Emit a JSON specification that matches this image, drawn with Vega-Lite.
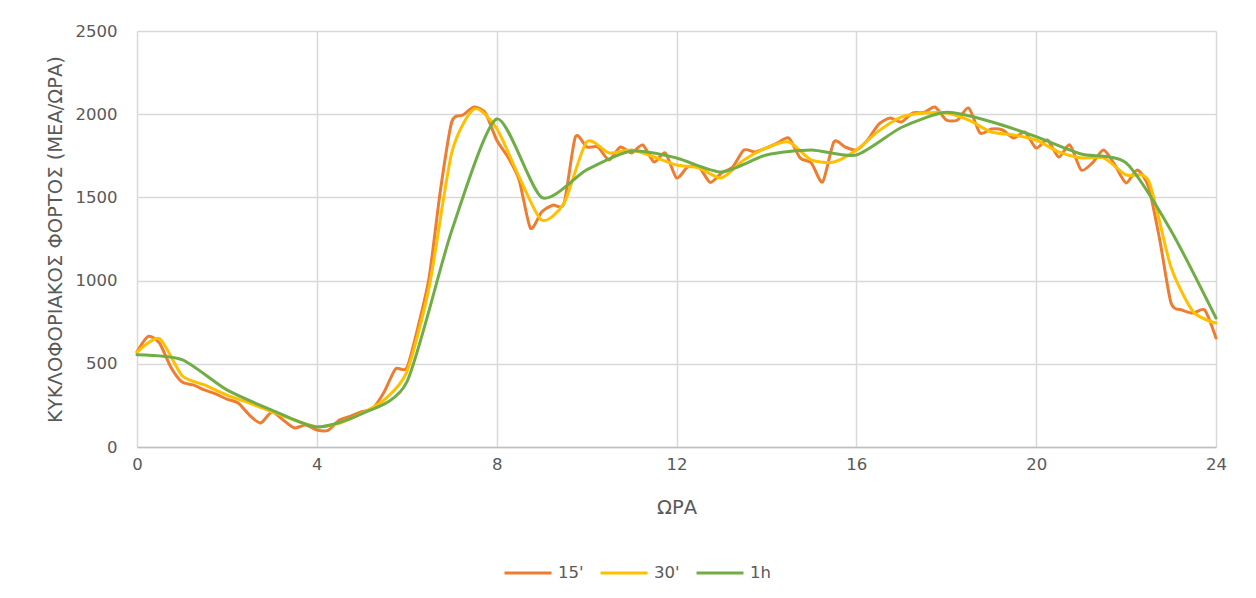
{
  "$schema": "https://vega.github.io/schema/vega-lite/v6.json",
  "width": 1079,
  "height": 416,
  "autosize": "none",
  "padding": {"left": 137, "top": 31, "right": 40, "bottom": 151},
  "background": "white",
  "config": {
    "view": {"stroke": null},
    "font": "DejaVu Sans",
    "axis": {
      "labelFont": "DejaVu Sans",
      "labelFontSize": 16.5,
      "labelColor": "#595959",
      "titleFont": "DejaVu Sans",
      "titleFontSize": 19.5,
      "titleFontWeight": "normal",
      "titleColor": "#595959",
      "gridColor": "#d9d9d9",
      "gridWidth": 1.5,
      "ticks": false,
      "domain": false,
      "labelFlush": false,
      "labelOverlap": false
    },
    "legend": {
      "labelFont": "DejaVu Sans",
      "labelFontSize": 16.5,
      "labelColor": "#595959"
    }
  },
  "data": {
    "values": [
      {"s": "15'", "t": 0, "v": 573}, {"s": "15'", "t": 0.25, "v": 665}, {"s": "15'", "t": 0.5, "v": 625}, {"s": "15'", "t": 0.75, "v": 481},
      {"s": "15'", "t": 1, "v": 391}, {"s": "15'", "t": 1.25, "v": 373}, {"s": "15'", "t": 1.5, "v": 343}, {"s": "15'", "t": 1.75, "v": 319},
      {"s": "15'", "t": 2, "v": 288}, {"s": "15'", "t": 2.25, "v": 264}, {"s": "15'", "t": 2.5, "v": 192}, {"s": "15'", "t": 2.75, "v": 144},
      {"s": "15'", "t": 3, "v": 210}, {"s": "15'", "t": 3.25, "v": 162}, {"s": "15'", "t": 3.5, "v": 114}, {"s": "15'", "t": 3.75, "v": 132},
      {"s": "15'", "t": 4, "v": 102}, {"s": "15'", "t": 4.25, "v": 100}, {"s": "15'", "t": 4.5, "v": 162}, {"s": "15'", "t": 4.75, "v": 186},
      {"s": "15'", "t": 5, "v": 212}, {"s": "15'", "t": 5.25, "v": 234}, {"s": "15'", "t": 5.5, "v": 332}, {"s": "15'", "t": 5.75, "v": 469},
      {"s": "15'", "t": 6, "v": 475}, {"s": "15'", "t": 6.25, "v": 721}, {"s": "15'", "t": 6.5, "v": 1022}, {"s": "15'", "t": 6.75, "v": 1544},
      {"s": "15'", "t": 7, "v": 1953}, {"s": "15'", "t": 7.25, "v": 1995}, {"s": "15'", "t": 7.5, "v": 2043}, {"s": "15'", "t": 7.75, "v": 2007},
      {"s": "15'", "t": 8, "v": 1845}, {"s": "15'", "t": 8.25, "v": 1743}, {"s": "15'", "t": 8.5, "v": 1605}, {"s": "15'", "t": 8.75, "v": 1316},
      {"s": "15'", "t": 9, "v": 1412}, {"s": "15'", "t": 9.25, "v": 1454}, {"s": "15'", "t": 9.5, "v": 1466}, {"s": "15'", "t": 9.75, "v": 1863},
      {"s": "15'", "t": 10, "v": 1803}, {"s": "15'", "t": 10.25, "v": 1803}, {"s": "15'", "t": 10.5, "v": 1725}, {"s": "15'", "t": 10.75, "v": 1803},
      {"s": "15'", "t": 11, "v": 1767}, {"s": "15'", "t": 11.25, "v": 1815}, {"s": "15'", "t": 11.5, "v": 1713}, {"s": "15'", "t": 11.75, "v": 1767},
      {"s": "15'", "t": 12, "v": 1617}, {"s": "15'", "t": 12.25, "v": 1683}, {"s": "15'", "t": 12.5, "v": 1683}, {"s": "15'", "t": 12.75, "v": 1590},
      {"s": "15'", "t": 13, "v": 1647}, {"s": "15'", "t": 13.25, "v": 1683}, {"s": "15'", "t": 13.5, "v": 1785}, {"s": "15'", "t": 13.75, "v": 1773},
      {"s": "15'", "t": 14, "v": 1797}, {"s": "15'", "t": 14.25, "v": 1827}, {"s": "15'", "t": 14.5, "v": 1857}, {"s": "15'", "t": 14.75, "v": 1737},
      {"s": "15'", "t": 15, "v": 1707}, {"s": "15'", "t": 15.25, "v": 1593}, {"s": "15'", "t": 15.5, "v": 1833}, {"s": "15'", "t": 15.75, "v": 1803},
      {"s": "15'", "t": 16, "v": 1785}, {"s": "15'", "t": 16.25, "v": 1845}, {"s": "15'", "t": 16.5, "v": 1940}, {"s": "15'", "t": 16.75, "v": 1977},
      {"s": "15'", "t": 17, "v": 1953}, {"s": "15'", "t": 17.25, "v": 2007}, {"s": "15'", "t": 17.5, "v": 2010}, {"s": "15'", "t": 17.75, "v": 2043},
      {"s": "15'", "t": 18, "v": 1965}, {"s": "15'", "t": 18.25, "v": 1965}, {"s": "15'", "t": 18.5, "v": 2037}, {"s": "15'", "t": 18.75, "v": 1887},
      {"s": "15'", "t": 19, "v": 1911}, {"s": "15'", "t": 19.25, "v": 1905}, {"s": "15'", "t": 19.5, "v": 1857}, {"s": "15'", "t": 19.75, "v": 1893},
      {"s": "15'", "t": 20, "v": 1797}, {"s": "15'", "t": 20.25, "v": 1845}, {"s": "15'", "t": 20.5, "v": 1743}, {"s": "15'", "t": 20.75, "v": 1815},
      {"s": "15'", "t": 21, "v": 1665}, {"s": "15'", "t": 21.25, "v": 1707}, {"s": "15'", "t": 21.5, "v": 1785}, {"s": "15'", "t": 21.75, "v": 1695},
      {"s": "15'", "t": 22, "v": 1587}, {"s": "15'", "t": 22.25, "v": 1665}, {"s": "15'", "t": 22.5, "v": 1563}, {"s": "15'", "t": 22.75, "v": 1244},
      {"s": "15'", "t": 23, "v": 865}, {"s": "15'", "t": 23.25, "v": 823}, {"s": "15'", "t": 23.5, "v": 805}, {"s": "15'", "t": 23.75, "v": 823},
      {"s": "15'", "t": 24, "v": 655},

      {"s": "30'", "t": 0, "v": 570}, {"s": "30'", "t": 0.5, "v": 652}, {"s": "30'", "t": 1, "v": 430}, {"s": "30'", "t": 1.5, "v": 373},
      {"s": "30'", "t": 2, "v": 312}, {"s": "30'", "t": 2.5, "v": 264}, {"s": "30'", "t": 3, "v": 212}, {"s": "30'", "t": 3.5, "v": 162},
      {"s": "30'", "t": 4, "v": 122}, {"s": "30'", "t": 4.5, "v": 143}, {"s": "30'", "t": 5, "v": 203}, {"s": "30'", "t": 5.5, "v": 283},
      {"s": "30'", "t": 6, "v": 450}, {"s": "30'", "t": 6.5, "v": 962}, {"s": "30'", "t": 7, "v": 1767}, {"s": "30'", "t": 7.5, "v": 2031},
      {"s": "30'", "t": 8, "v": 1915}, {"s": "30'", "t": 8.5, "v": 1623}, {"s": "30'", "t": 9, "v": 1364}, {"s": "30'", "t": 9.5, "v": 1466},
      {"s": "30'", "t": 10, "v": 1833}, {"s": "30'", "t": 10.5, "v": 1767}, {"s": "30'", "t": 11, "v": 1785}, {"s": "30'", "t": 11.5, "v": 1743},
      {"s": "30'", "t": 12, "v": 1695}, {"s": "30'", "t": 12.5, "v": 1677}, {"s": "30'", "t": 13, "v": 1617}, {"s": "30'", "t": 13.5, "v": 1725},
      {"s": "30'", "t": 14, "v": 1797}, {"s": "30'", "t": 14.5, "v": 1833}, {"s": "30'", "t": 15, "v": 1725}, {"s": "30'", "t": 15.5, "v": 1713},
      {"s": "30'", "t": 16, "v": 1785}, {"s": "30'", "t": 16.5, "v": 1900}, {"s": "30'", "t": 17, "v": 1983}, {"s": "30'", "t": 17.5, "v": 2007},
      {"s": "30'", "t": 18, "v": 2007}, {"s": "30'", "t": 18.5, "v": 1965}, {"s": "30'", "t": 19, "v": 1893}, {"s": "30'", "t": 19.5, "v": 1875},
      {"s": "30'", "t": 20, "v": 1845}, {"s": "30'", "t": 20.5, "v": 1773}, {"s": "30'", "t": 21, "v": 1737}, {"s": "30'", "t": 21.5, "v": 1737},
      {"s": "30'", "t": 22, "v": 1635}, {"s": "30'", "t": 22.5, "v": 1600}, {"s": "30'", "t": 23, "v": 1080}, {"s": "30'", "t": 23.5, "v": 811},
      {"s": "30'", "t": 24, "v": 745},

      {"s": "1h", "t": 0, "v": 555}, {"s": "1h", "t": 1, "v": 525}, {"s": "1h", "t": 2, "v": 343}, {"s": "1h", "t": 3, "v": 222},
      {"s": "1h", "t": 4, "v": 120}, {"s": "1h", "t": 5, "v": 200}, {"s": "1h", "t": 6, "v": 390}, {"s": "1h", "t": 7, "v": 1300},
      {"s": "1h", "t": 8, "v": 1971}, {"s": "1h", "t": 9, "v": 1500}, {"s": "1h", "t": 10, "v": 1665}, {"s": "1h", "t": 11, "v": 1779},
      {"s": "1h", "t": 12, "v": 1737}, {"s": "1h", "t": 13, "v": 1653}, {"s": "1h", "t": 14, "v": 1755}, {"s": "1h", "t": 15, "v": 1785},
      {"s": "1h", "t": 16, "v": 1755}, {"s": "1h", "t": 17, "v": 1920}, {"s": "1h", "t": 18, "v": 2011}, {"s": "1h", "t": 19, "v": 1955},
      {"s": "1h", "t": 20, "v": 1865}, {"s": "1h", "t": 21, "v": 1761}, {"s": "1h", "t": 22, "v": 1707}, {"s": "1h", "t": 23, "v": 1300},
      {"s": "1h", "t": 24, "v": 775}
    ]
  },
  "mark": {"type": "line", "interpolate": "cardinal", "tension": 0.3, "strokeWidth": 3, "strokeCap": "round"},
  "encoding": {
    "x": {
      "field": "t",
      "type": "quantitative",
      "title": "ΩΡΑ",
      "scale": {"domain": [0, 24], "nice": false},
      "axis": {"values": [0, 4, 8, 12, 16, 20, 24], "labelPadding": 9, "titlePadding": 26, "domain": true, "domainColor": "#bfbfbf", "domainWidth": 1.5}
    },
    "y": {
      "field": "v",
      "type": "quantitative",
      "title": "ΚΥΚΛΟΦΟΡΙΑΚΟΣ ΦΟΡΤΟΣ (ΜΕΑ/ΩΡΑ)",
      "scale": {"domain": [0, 2500], "nice": false},
      "axis": {"values": [0, 500, 1000, 1500, 2000, 2500], "format": "d", "labelPadding": 20, "titlePadding": 10}
    },
    "color": {
      "field": "s",
      "type": "nominal",
      "title": null,
      "scale": {"domain": ["15'", "30'", "1h"], "range": ["#ED7D31", "#FFC000", "#70AD47"]},
      "legend": {
        "orient": "none",
        "direction": "horizontal",
        "gridAlign": "none",
        "legendX": 366,
        "legendY": 517,
        "symbolType": "stroke",
        "symbolSize": 2209,
        "symbolStrokeWidth": 3,
        "labelOffset": 5,
        "columnPadding": 10
      }
    },
    "order": {"field": "t", "type": "quantitative"}
  }
}
